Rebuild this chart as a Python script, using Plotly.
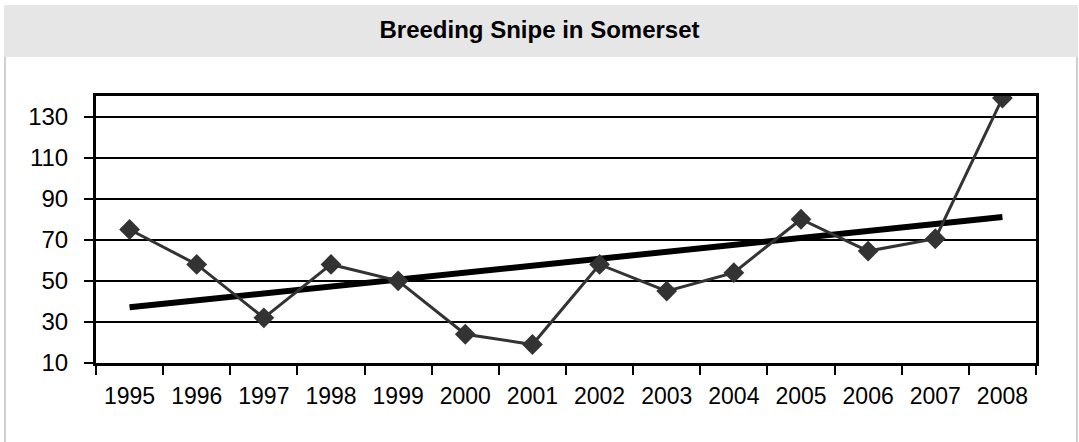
import numpy as np
import plotly.graph_objects as go

years = ["1995", "1996", "1997", "1998", "1999", "2000", "2001",
         "2002", "2003", "2004", "2005", "2006", "2007", "2008"]
snipe = [75, 58, 32, 58, 50, 24, 19, 58, 45, 54, 80, 64.5, 70.5, 139]
y_ticks = [10, 30, 50, 70, 90, 110, 130]

W, H = 1079, 442
ML, MR, MT, MB = 96, 43, 96, 79
PW, PH = W - ML - MR, H - MT - MB

def px_x(px):
    return (px - ML) / PW

def px_y(py):
    return (H - MB - py) / PH

# linear trend fitted to the counts
idx = np.arange(len(snipe))
slope, icpt = np.polyfit(idx, snipe, 1)
trend = list(slope * idx + icpt)

fig = go.Figure()
fig.add_trace(go.Scatter(
    x=years, y=trend, mode="lines",
    line=dict(color="#000000", width=6),
    hoverinfo="skip", showlegend=False))
fig.add_trace(go.Scatter(
    x=years, y=snipe, mode="lines+markers",
    line=dict(color="#333333", width=3),
    marker=dict(symbol="diamond", size=16, color="#333333"),
    showlegend=False))

shapes = [
    dict(type="rect", xref="paper", yref="paper",
         x0=px_x(4), x1=px_x(1078), y0=px_y(57), y1=px_y(5),
         fillcolor="#e6e6e6", line=dict(width=0), layer="below"),
    dict(type="line", xref="paper", yref="paper",
         x0=px_x(5), x1=px_x(5), y0=px_y(445), y1=px_y(57),
         line=dict(color="#d0d0d0", width=2)),
    dict(type="line", xref="paper", yref="paper",
         x0=px_x(1077), x1=px_x(1077), y0=px_y(445), y1=px_y(57),
         line=dict(color="#d0d0d0", width=2)),
]

fig.update_layout(
    width=W, height=H,
    margin=dict(l=ML, r=MR, t=MT, b=MB),
    paper_bgcolor="white", plot_bgcolor="white",
    font=dict(family="Liberation Sans, Arial, sans-serif", color="#000000"),
    title=dict(text="<b>Breeding Snipe in Somerset</b>",
               x=0.5, xref="container", xanchor="center",
               y=1 - 30 / H, yref="container", yanchor="middle",
               font=dict(size=24, color="#000000")),
    shapes=shapes,
    xaxis=dict(type="category", categoryorder="array", categoryarray=years,
               range=[-0.5, len(years) - 0.5],
               showgrid=False, showline=True, linecolor="#000000", linewidth=3,
               mirror=True, ticks="outside", tickson="boundaries",
               ticklen=9, tickwidth=2, tickcolor="#000000",
               tickfont=dict(size=23), ticklabelstandoff=10, zeroline=False),
    yaxis=dict(range=[10, 140], tickvals=y_ticks,
               showgrid=True, gridcolor="#000000", gridwidth=2,
               showline=True, linecolor="#000000", linewidth=3, mirror=True,
               ticks="outside", ticklen=9, tickwidth=2, tickcolor="#000000",
               tickfont=dict(size=24), ticklabelstandoff=11, zeroline=False),
)

fig.write_html("out.html", config={"displayModeBar": False},
               post_script="document.body.style.margin='0';")
